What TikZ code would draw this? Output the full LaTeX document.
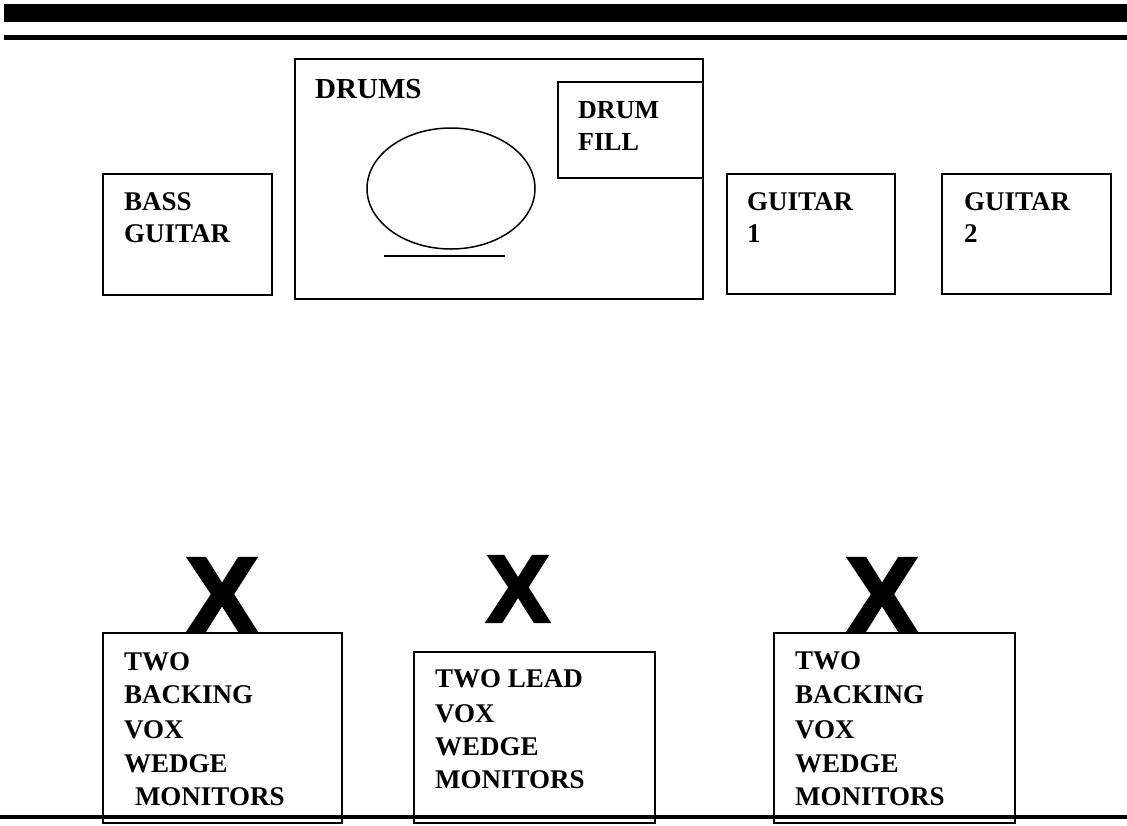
\documentclass[tikz,border=0pt]{standalone}
\usepackage{fontspec}
\setmainfont{Liberation Serif}
\newfontfamily\markfont[FakeBold=2.5]{Liberation Sans Bold}
\usepackage{xcolor}
\usepackage{tikz}
\usetikzlibrary{calc}
\definecolor{ink}{HTML}{000000}
\tikzset{
  box/.style={draw=ink, fill=white, line width=1.5pt},
  kit/.style={draw=ink, line width=1.5pt},
  rule/.style={fill=ink},
  t/.style={inner sep=0pt, anchor=base west, font=\fontsize{27}{33}\selectfont\bfseries, text=ink},
  tsmall/.style={t, font=\fontsize{26}{32}\selectfont\bfseries},
  thead/.style={t, font=\fontsize{29}{34}\selectfont\bfseries},
  vocalx/.style={inner sep=0pt, anchor=base, font=\markfont\fontsize{#1}{#1}\selectfont, text=ink},
  vocalx/.default=96,
}
\begin{document}
\begin{tikzpicture}[x=1pt, y=-1pt]
  \useasboundingbox (0,0) rectangle (1127,825);

  % header rules
  \fill[rule] (4,4) rectangle (1127,22);
  \fill[rule] (4,35) rectangle (1127,40);

  % back line
  \draw[box] (103,174) rectangle (272,295);
  \node[t] (bass1) at (124,210) {BASS}; \node[t] (bass2) at (124,242) {GUITAR};

  \draw[box] (295,59) rectangle (703,299);
  \node[thead] (drums) at (315,98) {DRUMS};
  \draw[box] (558,82) rectangle (703,178);
  \node[tsmall] (fill1) at (578,118) {DRUM}; \node[tsmall] (fill2) at (578,150) {FILL};
  \draw[kit] (451,188.5) ellipse [x radius=84, y radius=60.5];
  \draw[kit] (384,256) -- (505,256);

  \draw[box] (727,174) rectangle (895,294);
  \node[t] (gtra1) at (747,210) {GUITAR}; \node[t] (gtra2) at (747,242) {1};

  \draw[box] (942,174) rectangle (1111,294);
  \node[t] (gtrb1) at (964,210) {GUITAR}; \node[t] (gtrb2) at (964,242) {2};

  % vocal positions
  \node[vocalx=110] (xleft) at (222,634) {X};
  \node[vocalx] (xmid) at (518,622) {X};
  \node[vocalx=110] (xright) at (882,634) {X};

  \draw[box] (103,633) rectangle (342,823);
  \node[t] (bvl1) at (124,670) {TWO}; \node[t] (bvl2) at (124,703) {BACKING};
  \node[t] (bvl3) at (124,738) {VOX}; \node[t] (bvl4) at (124,772) {WEDGE};
  \node[t] (bvl5) at (124,805) {\hspace*{0.4em}MONITORS};

  \draw[box] (414,652) rectangle (655,823);
  \node[t] (ld1) at (435,687) {TWO LEAD}; \node[t] (ld2) at (435,722) {VOX};
  \node[t] (ld3) at (435,755) {WEDGE}; \node[t] (ld4) at (435,788) {MONITORS};

  \draw[box] (774,633) rectangle (1015,823);
  \node[t] (bvr1) at (795,669) {TWO}; \node[t] (bvr2) at (795,703) {BACKING};
  \node[t] (bvr3) at (795,738) {VOX}; \node[t] (bvr4) at (795,772) {WEDGE};
  \node[t] (bvr5) at (795,805) {MONITORS};

  % stage edge
  \fill[rule] (0,815) rectangle (1127,819);
\end{tikzpicture}
\end{document}
